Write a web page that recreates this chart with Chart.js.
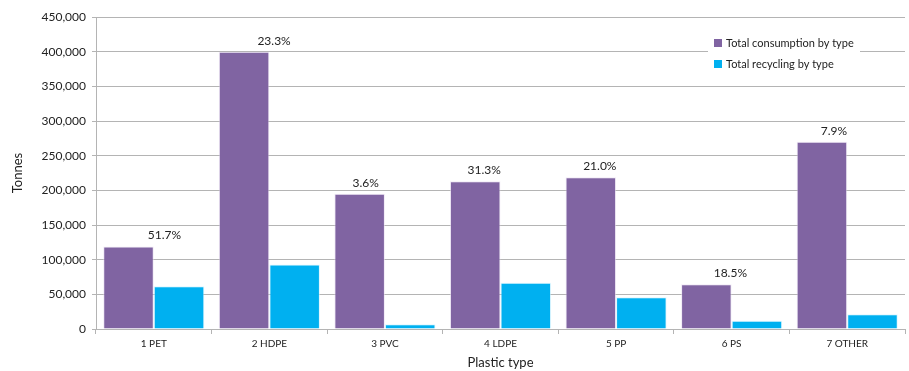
<!DOCTYPE html>
<html>
<head>
<meta charset="utf-8">
<script src="https://cdn.jsdelivr.net/npm/chart.js@4.4.1/dist/chart.umd.min.js"></script>
<style>
  html, body { margin: 0; padding: 0; background: #fff; }
  #wrap { width: 909px; height: 371px; }
</style>
</head>
<body>
<div id="wrap"><canvas id="c" width="909" height="371"></canvas></div>
<script>
// Plastic types and tonnages
const categories = ['1 PET', '2 HDPE', '3 PVC', '4 LDPE', '5 PP', '6 PS', '7 OTHER'];
const consumption = [119000, 400000, 195000, 213000, 219000, 64500, 270000];
const recycling = [61500, 93200, 7000, 66700, 45800, 11900, 21300];
const recyclingRates = ['51.7%', '23.3%', '3.6%', '31.3%', '21.0%', '18.5%', '7.9%'];
const seriesNames = ['Total consumption by type', 'Total recycling by type'];

const FONT = 'Lato, "Open Sans", sans-serif';
const PURPLE = '#8064A2';
const BLUE = '#00B0F0';
const GRID = '#b4b4b4';

// Recycling-rate labels above the consumption bars
const rateLabels = {
  id: 'rateLabels',
  afterDatasetsDraw(chart, args, opts) {
    const ctx = chart.ctx;
    const meta = chart.getDatasetMeta(0);
    ctx.save();
    ctx.font = '12px ' + FONT;
    ctx.fillStyle = '#222';
    ctx.textAlign = 'center';
    ctx.textBaseline = 'bottom';
    meta.data.forEach((bar, i) => {
      const nudge = opts.nudge[i] || 0;
      ctx.fillText(recyclingRates[i], bar.x + nudge, bar.y - 5);
    });
    ctx.restore();
  }
};

// Legend box drawn inside the plot area, top right
const innerLegend = {
  id: 'innerLegend',
  afterDraw(chart, args, opts) {
    const ctx = chart.ctx;
    const x = opts.x, y = opts.y;
    ctx.save();
    ctx.fillStyle = '#fff';
    ctx.fillRect(x - 6, y - 8, 152, 38);
    ctx.font = '11px ' + FONT;
    ctx.textBaseline = 'middle';
    ctx.textAlign = 'left';
    const colors = [PURPLE, BLUE];
    seriesNames.forEach((name, i) => {
      const ry = y + i * 21;
      ctx.fillStyle = colors[i];
      ctx.fillRect(x, ry - 4, 8, 8);
      ctx.fillStyle = '#222';
      ctx.fillText(name, x + 12, ry);
    });
    ctx.restore();
  }
};

new Chart(document.getElementById('c'), {
  type: 'bar',
  data: {
    labels: categories,
    datasets: [
      {
        label: seriesNames[0],
        data: consumption,
        backgroundColor: PURPLE,
        borderColor: 'rgba(230,220,240,0.6)',
        borderWidth: 1,
        categoryPercentage: 0.875,
        barPercentage: 1.0
      },
      {
        label: seriesNames[1],
        data: recycling,
        backgroundColor: BLUE,
        borderColor: 'rgba(200,240,255,0.6)',
        borderWidth: 1,
        categoryPercentage: 0.875,
        barPercentage: 1.0
      }
    ]
  },
  options: {
    responsive: false,
    animation: false,
    devicePixelRatio: 1,
    layout: { padding: { top: 17, right: 4, left: 0, bottom: 0 } },
    plugins: {
      legend: { display: false },
      tooltip: { enabled: false },
      rateLabels: { nudge: [36, 30, 6, 9, 9, 24, 12] },
      innerLegend: { x: 714, y: 43 }
    },
    scales: {
      x: {
        offset: true,
        grid: {
          display: true,
          offset: true,
          drawOnChartArea: false,
          drawTicks: true,
          tickLength: 5,
          color: GRID
        },
        border: { display: true, color: GRID, width: 1 },
        ticks: {
          color: '#222',
          font: { family: FONT, size: 10 },
          padding: 4,
          maxRotation: 0
        },
        title: {
          display: true,
          text: 'Plastic type',
          color: '#222',
          font: { family: FONT, size: 13 },
          padding: { top: 2, bottom: 0 }
        },
        afterFit(scale) { scale.height = 42; }
      },
      y: {
        min: 0,
        max: 450000,
        grid: {
          color: GRID,
          lineWidth: 1,
          drawTicks: true,
          tickLength: 4
        },
        border: { display: true, color: GRID, width: 1 },
        ticks: {
          stepSize: 50000,
          color: '#222',
          font: { family: FONT, size: 12 },
          padding: 6,
          callback: v => v.toLocaleString('en-US')
        },
        title: {
          display: true,
          text: 'Tonnes',
          color: '#222',
          font: { family: FONT, size: 13 },
          padding: { top: 10, bottom: 4 }
        },
        afterFit(scale) { scale.width = 96; }
      }
    }
  },
  plugins: [rateLabels, innerLegend]
});
</script>
</body>
</html>
